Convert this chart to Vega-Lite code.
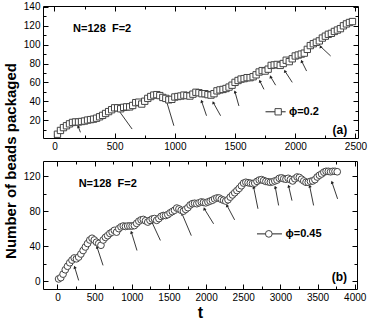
{
  "$schema": "https://vega.github.io/schema/vega-lite/v6.json",
  "padding": {"top": 1, "left": 3, "right": 0, "bottom": 0},
  "background": "white",
  "title": {"text": "Number of beads packaged", "orient": "left", "anchor": "middle", "font": "Liberation Sans", "fontSize": 15, "fontWeight": "bold", "color": "#000", "offset": 4},
  "config": {
    "font": "Liberation Sans",
    "view": {"stroke": "#000", "strokeWidth": 1},
    "axis": {"grid": false, "labelFont": "Liberation Sans", "labelFontSize": 10, "labelColor": "#000", "tickColor": "#000", "domainColor": "#000", "titleFont": "Liberation Sans", "titleColor": "#000", "format": "d"}
  },
  "spacing": 8,
  "datasets": {
    "seriesA": [
      {"t":25,"v":5},{"t":50,"v":9},{"t":75,"v":12},{"t":100,"v":14},{"t":125,"v":16},{"t":150,"v":17.5},{"t":175,"v":18},{"t":200,"v":18},{"t":225,"v":18.5},{"t":250,"v":19},
      {"t":275,"v":20},{"t":300,"v":20.5},{"t":325,"v":21},{"t":350,"v":22},{"t":375,"v":23.5},{"t":400,"v":25},{"t":425,"v":27},{"t":450,"v":29},{"t":475,"v":31},{"t":500,"v":33},
      {"t":525,"v":33},{"t":550,"v":32},{"t":575,"v":33.5},{"t":600,"v":34},{"t":625,"v":34},{"t":650,"v":35.5},{"t":675,"v":38.5},{"t":700,"v":39},{"t":725,"v":37},{"t":750,"v":40},
      {"t":775,"v":43},{"t":800,"v":45},{"t":825,"v":46.5},{"t":850,"v":47},{"t":875,"v":46},{"t":900,"v":44},{"t":925,"v":43},{"t":950,"v":41.5},{"t":975,"v":42},{"t":1000,"v":44.5},
      {"t":1025,"v":45},{"t":1050,"v":45.5},{"t":1075,"v":46.5},{"t":1100,"v":46},{"t":1125,"v":45.5},{"t":1150,"v":47.5},{"t":1175,"v":49.5},{"t":1200,"v":49},{"t":1225,"v":48},{"t":1250,"v":48},
      {"t":1275,"v":47},{"t":1300,"v":46.5},{"t":1325,"v":48},{"t":1350,"v":51},{"t":1375,"v":52},{"t":1400,"v":52.5},{"t":1425,"v":53.5},{"t":1450,"v":55},{"t":1475,"v":57},{"t":1500,"v":60},
      {"t":1525,"v":62},{"t":1550,"v":63.5},{"t":1575,"v":64},{"t":1600,"v":65},{"t":1625,"v":65},{"t":1650,"v":66},{"t":1675,"v":68},{"t":1700,"v":71},{"t":1725,"v":72.5},{"t":1750,"v":72},
      {"t":1775,"v":74},{"t":1800,"v":78},{"t":1825,"v":78.5},{"t":1850,"v":79},{"t":1875,"v":78},{"t":1900,"v":80},{"t":1925,"v":83.5},{"t":1950,"v":82},{"t":1975,"v":85},{"t":2000,"v":88},
      {"t":2025,"v":89},{"t":2050,"v":90},{"t":2075,"v":91},{"t":2100,"v":95},{"t":2125,"v":99},{"t":2150,"v":101},{"t":2175,"v":102.5},{"t":2200,"v":104},{"t":2225,"v":107},{"t":2250,"v":109},
      {"t":2275,"v":111},{"t":2300,"v":112},{"t":2325,"v":114},{"t":2350,"v":115.5},{"t":2375,"v":117},{"t":2400,"v":120},{"t":2425,"v":122},{"t":2450,"v":123.5},{"t":2475,"v":124.5}
    ],
    "seriesB": [
      {"t":15,"v":2.5},{"t":45,"v":4},{"t":75,"v":8},{"t":105,"v":13},{"t":135,"v":17},{"t":165,"v":21},{"t":195,"v":24},{"t":225,"v":26.5},{"t":255,"v":25.5},{"t":285,"v":27.5},
      {"t":315,"v":31},{"t":345,"v":35},{"t":375,"v":39},{"t":405,"v":43},{"t":435,"v":47},{"t":465,"v":49},{"t":495,"v":47},{"t":525,"v":44.5},{"t":555,"v":43},{"t":585,"v":41},
      {"t":615,"v":47},{"t":645,"v":50},{"t":675,"v":52},{"t":705,"v":54.5},{"t":735,"v":56},{"t":765,"v":58},{"t":795,"v":56},{"t":825,"v":60},{"t":855,"v":62},{"t":885,"v":63},
      {"t":915,"v":62.5},{"t":945,"v":63},{"t":975,"v":63},{"t":1005,"v":63},{"t":1035,"v":63.5},{"t":1065,"v":66},{"t":1095,"v":68.5},{"t":1125,"v":70},{"t":1155,"v":70.5},{"t":1185,"v":69},
      {"t":1215,"v":67.5},{"t":1245,"v":69.5},{"t":1275,"v":71},{"t":1305,"v":71.5},{"t":1335,"v":69.5},{"t":1365,"v":71.5},{"t":1395,"v":74},{"t":1425,"v":75},{"t":1455,"v":75},{"t":1485,"v":76},
      {"t":1515,"v":78},{"t":1545,"v":79.5},{"t":1575,"v":81},{"t":1605,"v":83.5},{"t":1635,"v":82.5},{"t":1665,"v":81},{"t":1695,"v":80},{"t":1725,"v":82},{"t":1755,"v":84},{"t":1785,"v":87},
      {"t":1815,"v":88.5},{"t":1845,"v":89},{"t":1875,"v":88.5},{"t":1905,"v":89.5},{"t":1935,"v":90.5},{"t":1965,"v":90},{"t":1995,"v":89.5},{"t":2025,"v":90.5},{"t":2055,"v":91.5},{"t":2085,"v":92.5},
      {"t":2115,"v":94},{"t":2145,"v":95},{"t":2175,"v":95},{"t":2205,"v":93.5},{"t":2235,"v":92.5},{"t":2265,"v":91.5},{"t":2295,"v":93},{"t":2325,"v":96},{"t":2355,"v":98.5},{"t":2385,"v":101},
      {"t":2415,"v":103.5},{"t":2445,"v":106},{"t":2475,"v":109},{"t":2505,"v":112},{"t":2535,"v":113},{"t":2565,"v":112.5},{"t":2595,"v":112},{"t":2625,"v":111.5},{"t":2655,"v":112},{"t":2685,"v":114},
      {"t":2715,"v":115.5},{"t":2745,"v":116},{"t":2775,"v":115},{"t":2805,"v":114},{"t":2835,"v":113.5},{"t":2865,"v":113},{"t":2895,"v":113.5},{"t":2925,"v":114.5},{"t":2955,"v":115.5},{"t":2985,"v":117.5},
      {"t":3015,"v":118},{"t":3045,"v":117},{"t":3075,"v":116.5},{"t":3105,"v":117.5},{"t":3135,"v":116},{"t":3165,"v":114.5},{"t":3195,"v":117},{"t":3225,"v":119},{"t":3255,"v":118.5},{"t":3285,"v":116.5},
      {"t":3315,"v":114.5},{"t":3345,"v":113},{"t":3375,"v":113},{"t":3405,"v":114},{"t":3435,"v":114.5},{"t":3465,"v":116},{"t":3495,"v":119},{"t":3525,"v":121},{"t":3555,"v":122.5},{"t":3585,"v":124.5},
      {"t":3615,"v":125.5},{"t":3645,"v":125.5},{"t":3675,"v":125},{"t":3705,"v":125.5},{"t":3735,"v":125.5},{"t":3765,"v":125}
    ],
    "arrowsA": [
      {"t":216,"v":7,"t2":197,"v2":13.3},
      {"t":645,"v":10.5,"t2":507,"v2":35},
      {"t":992,"v":14,"t2":931,"v2":40},
      {"t":1263,"v":24.6,"t2":1222,"v2":40},
      {"t":1380,"v":24.6,"t2":1319,"v2":38.6},
      {"t":1532,"v":35,"t2":1499,"v2":50},
      {"t":1740,"v":52.6,"t2":1706,"v2":61.4},
      {"t":1837,"v":57,"t2":1795,"v2":66},
      {"t":1975,"v":60,"t2":1914,"v2":72},
      {"t":2094,"v":72,"t2":2053,"v2":82.5},
      {"t":2294,"v":88,"t2":2210,"v2":98}
    ],
    "arrowsB": [
      {"t":285,"v":0.8,"t2":231,"v2":16},
      {"t":613,"v":18,"t2":532,"v2":39},
      {"t":1070,"v":35,"t2":994,"v2":56},
      {"t":1385,"v":46.5,"t2":1271,"v2":67.4},
      {"t":1801,"v":52,"t2":1676,"v2":77},
      {"t":2101,"v":65.5,"t2":1976,"v2":82.7},
      {"t":2384,"v":70,"t2":2281,"v2":86.5},
      {"t":2698,"v":82.7,"t2":2640,"v2":107.4},
      {"t":2976,"v":86.5,"t2":2931,"v2":107.4},
      {"t":3156,"v":92,"t2":3111,"v2":108.6},
      {"t":3447,"v":86.5,"t2":3394,"v2":108.6},
      {"t":3770,"v":94,"t2":3694,"v2":113}
    ],
    "legLineA": [{"t":1753,"t2":1920,"v":28.8}],
    "legSymA": [{"t":1858,"v":28.8}],
    "legTextA": [{"t":1947,"v":28.8,"label":"ϕ=0.2"}],
    "infoA": [{"t":155,"v":116.5,"label":"N=128\u00a0\u00a0F=2"}],
    "tagA": [{"t":2432,"v":9.5,"label":"(a)"}],
    "legLineB": [{"t":2685,"t2":3021,"v":54}],
    "legSymB": [{"t":2844,"v":54}],
    "legTextB": [{"t":3069,"v":54,"label":"ϕ=0.45"}],
    "infoB": [{"t":285,"v":111.2,"label":"N=128\u00a0\u00a0F=2"}],
    "tagB": [{"t":3896,"v":4.6,"label":"(b)"}]
  },
  "vconcat": [
    {
      "width": 315,
      "height": 132,
      "resolve": {"axis": {"x": "independent", "y": "independent"}},
      "layer": [
        {
          "data": {"name": "arrowsA"},
          "mark": {"type": "rule", "color": "#222", "strokeWidth": 0.9},
          "encoding": {
            "x": {"field": "t", "type": "quantitative", "scale": {"domain": [-95, 2521], "nice": false, "zero": false},
              "axis": {"orient": "bottom", "title": null, "format": "d", "values": [0,250,500,750,1000,1250,1500,1750,2000,2250,2500], "labelExpr": "datum.value % 500 === 0 ? datum.label : ''", "tickSize": {"condition": {"test": "datum.value % 500 === 0", "value": -5}, "value": -3}, "labelPadding": 8, "domain": false}},
            "y": {"field": "v", "type": "quantitative", "scale": {"domain": [1, 141], "nice": false, "zero": false},
              "axis": {"orient": "left", "title": null, "format": "d", "values": [10,20,30,40,50,60,70,80,90,100,110,120,130,140], "labelExpr": "datum.value % 20 === 0 ? datum.label : ''", "tickSize": {"condition": {"test": "datum.value % 20 === 0", "value": -5}, "value": -3}, "labelPadding": 8, "domain": false}},
            "x2": {"field": "t2"},
            "y2": {"field": "v2"}
          }
        },
        {
          "data": {"name": "arrowsA"},
          "mark": {"type": "point", "shape": "triangle-up", "filled": true, "color": "#222", "size": 12, "angle": 338, "opacity": 1},
          "encoding": {
            "x": {"field": "t2", "type": "quantitative", "axis": null},
            "y": {"field": "v2", "type": "quantitative", "axis": null}
          }
        },
        {
          "data": {"name": "legLineA"},
          "mark": {"type": "rule", "color": "#222", "strokeWidth": 1},
          "encoding": {
            "x": {"field": "t", "type": "quantitative", "axis": null},
            "x2": {"field": "t2"},
            "y": {"field": "v", "type": "quantitative", "axis": null}
          }
        },
        {
          "data": {"name": "seriesA"},
          "mark": {"type": "point", "shape": "square", "filled": true, "fill": "white", "stroke": "#444", "strokeWidth": 1, "size": 40, "opacity": 1},
          "encoding": {
            "x": {"field": "t", "type": "quantitative",
              "axis": {"orient": "top", "title": null, "values": [0,250,500,750,1000,1250,1500,1750,2000,2250,2500], "labels": false, "tickSize": {"condition": {"test": "datum.value % 500 === 0", "value": -5}, "value": -3}, "domain": false}},
            "y": {"field": "v", "type": "quantitative",
              "axis": {"orient": "right", "title": null, "values": [10,20,30,40,50,60,70,80,90,100,110,120,130,140], "labels": false, "tickSize": {"condition": {"test": "datum.value % 20 === 0", "value": -5}, "value": -3}, "domain": false}}
          }
        },
        {
          "data": {"name": "legSymA"},
          "mark": {"type": "point", "shape": "square", "filled": true, "fill": "white", "stroke": "#444", "strokeWidth": 1, "size": 40, "opacity": 1},
          "encoding": {
            "x": {"field": "t", "type": "quantitative", "axis": null},
            "y": {"field": "v", "type": "quantitative", "axis": null}
          }
        },
        {
          "data": {"name": "legTextA"},
          "mark": {"type": "text", "align": "left", "baseline": "middle", "font": "Liberation Sans", "fontWeight": "bold", "fontSize": 11, "color": "#000"},
          "encoding": {
            "x": {"field": "t", "type": "quantitative", "axis": null},
            "y": {"field": "v", "type": "quantitative", "axis": null},
            "text": {"field": "label"}
          }
        },
        {
          "data": {"name": "infoA"},
          "mark": {"type": "text", "align": "left", "baseline": "middle", "font": "Liberation Sans", "fontWeight": "bold", "fontSize": 11, "color": "#000"},
          "encoding": {
            "x": {"field": "t", "type": "quantitative", "axis": null},
            "y": {"field": "v", "type": "quantitative", "axis": null},
            "text": {"field": "label"}
          }
        },
        {
          "data": {"name": "tagA"},
          "mark": {"type": "text", "align": "right", "baseline": "middle", "font": "Liberation Sans", "fontWeight": "bold", "fontSize": 12, "color": "#000"},
          "encoding": {
            "x": {"field": "t", "type": "quantitative", "axis": null},
            "y": {"field": "v", "type": "quantitative", "axis": null},
            "text": {"field": "label"}
          }
        }
      ]
    },
    {
      "width": 314,
      "height": 128,
      "resolve": {"axis": {"x": "independent", "y": "independent"}},
      "layer": [
        {
          "data": {"name": "arrowsB"},
          "mark": {"type": "rule", "color": "#222", "strokeWidth": 0.9},
          "encoding": {
            "x": {"field": "t", "type": "quantitative", "scale": {"domain": [-195, 4031], "nice": false, "zero": false},
              "axis": {"orient": "bottom", "title": "t", "titleFontSize": 16, "titleFontWeight": "bold", "titlePadding": 2, "format": "d", "values": [0,250,500,750,1000,1250,1500,1750,2000,2250,2500,2750,3000,3250,3500,3750,4000], "labelExpr": "datum.value % 500 === 0 ? datum.label : ''", "tickSize": {"condition": {"test": "datum.value % 500 === 0", "value": -5}, "value": -3}, "labelPadding": 8, "domain": false}},
            "y": {"field": "v", "type": "quantitative", "scale": {"domain": [-9, 137.3], "nice": false, "zero": false},
              "axis": {"orient": "left", "title": null, "format": "d", "values": [0,20,40,60,80,100,120], "labelExpr": "datum.value % 40 === 0 ? datum.label : ''", "tickSize": {"condition": {"test": "datum.value % 40 === 0", "value": -5}, "value": -3}, "labelPadding": 8, "domain": false}},
            "x2": {"field": "t2"},
            "y2": {"field": "v2"}
          }
        },
        {
          "data": {"name": "arrowsB"},
          "mark": {"type": "point", "shape": "triangle-up", "filled": true, "color": "#222", "size": 12, "angle": 340, "opacity": 1},
          "encoding": {
            "x": {"field": "t2", "type": "quantitative", "axis": null},
            "y": {"field": "v2", "type": "quantitative", "axis": null}
          }
        },
        {
          "data": {"name": "legLineB"},
          "mark": {"type": "rule", "color": "#222", "strokeWidth": 1},
          "encoding": {
            "x": {"field": "t", "type": "quantitative", "axis": null},
            "x2": {"field": "t2"},
            "y": {"field": "v", "type": "quantitative", "axis": null}
          }
        },
        {
          "data": {"name": "seriesB"},
          "mark": {"type": "point", "shape": "circle", "filled": true, "fill": "white", "stroke": "#444", "strokeWidth": 1, "size": 45, "opacity": 1},
          "encoding": {
            "x": {"field": "t", "type": "quantitative",
              "axis": {"orient": "top", "title": null, "values": [0,250,500,750,1000,1250,1500,1750,2000,2250,2500,2750,3000,3250,3500,3750,4000], "labels": false, "tickSize": {"condition": {"test": "datum.value % 500 === 0", "value": -5}, "value": -3}, "domain": false}},
            "y": {"field": "v", "type": "quantitative",
              "axis": {"orient": "right", "title": null, "values": [0,20,40,60,80,100,120], "labels": false, "tickSize": {"condition": {"test": "datum.value % 40 === 0", "value": -5}, "value": -3}, "domain": false}}
          }
        },
        {
          "data": {"name": "legSymB"},
          "mark": {"type": "point", "shape": "circle", "filled": true, "fill": "white", "stroke": "#444", "strokeWidth": 1, "size": 45, "opacity": 1},
          "encoding": {
            "x": {"field": "t", "type": "quantitative", "axis": null},
            "y": {"field": "v", "type": "quantitative", "axis": null}
          }
        },
        {
          "data": {"name": "legTextB"},
          "mark": {"type": "text", "align": "left", "baseline": "middle", "font": "Liberation Sans", "fontWeight": "bold", "fontSize": 11, "color": "#000"},
          "encoding": {
            "x": {"field": "t", "type": "quantitative", "axis": null},
            "y": {"field": "v", "type": "quantitative", "axis": null},
            "text": {"field": "label"}
          }
        },
        {
          "data": {"name": "infoB"},
          "mark": {"type": "text", "align": "left", "baseline": "middle", "font": "Liberation Sans", "fontWeight": "bold", "fontSize": 11, "color": "#000"},
          "encoding": {
            "x": {"field": "t", "type": "quantitative", "axis": null},
            "y": {"field": "v", "type": "quantitative", "axis": null},
            "text": {"field": "label"}
          }
        },
        {
          "data": {"name": "tagB"},
          "mark": {"type": "text", "align": "right", "baseline": "middle", "font": "Liberation Sans", "fontWeight": "bold", "fontSize": 12, "color": "#000"},
          "encoding": {
            "x": {"field": "t", "type": "quantitative", "axis": null},
            "y": {"field": "v", "type": "quantitative", "axis": null},
            "text": {"field": "label"}
          }
        }
      ]
    }
  ]
}
